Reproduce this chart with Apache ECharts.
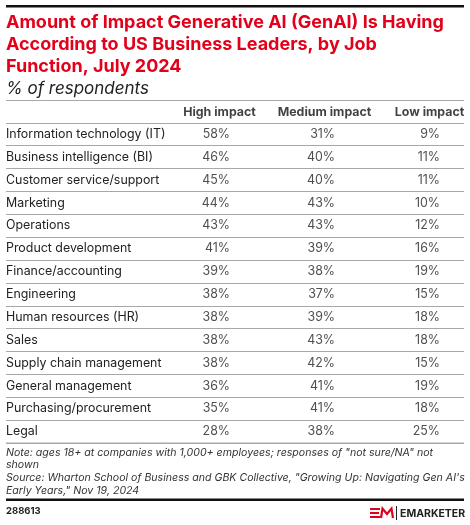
<!DOCTYPE html>
<html>
<head>
<meta charset="utf-8">
<script src="https://cdn.jsdelivr.net/npm/echarts@6/dist/echarts.min.js"></script>
<style>
    html, body { margin: 0; padding: 0; background: #fff; }
    #chart { width: 470px; height: 525px; }
</style>
</head>
<body>
<div id="chart"></div>
<script>
var jobFunctions = ["Information technology (IT)", "Business intelligence (BI)", "Customer service/support",
    "Marketing", "Operations", "Product development", "Finance/accounting", "Engineering",
    "Human resources (HR)", "Sales", "Supply chain management", "General management",
    "Purchasing/procurement", "Legal"];
var columnNames = ["High impact", "Medium impact", "Low impact"];
var highImpact = [58, 46, 45, 44, 43, 41, 39, 38, 38, 38, 38, 36, 35, 28];
var mediumImpact = [31, 40, 40, 43, 43, 39, 38, 37, 39, 43, 42, 41, 41, 38];
var lowImpact = [9, 11, 11, 10, 12, 16, 19, 15, 18, 18, 15, 19, 18, 25];

var FONT = "Inter";
var TEXT = "#222";
var RULE = "#a8a8a8";
var GRID_TOP = 100, GRID_H = 343;

// first row of the category axis is the header row
var rowCats = ["header"].concat(jobFunctions);

function valueSeries(col, values) {
    return {
        type: "scatter",
        symbolSize: 1,
        itemStyle: { color: "transparent" },
        silent: true,
        data: values.map(function (v, i) { return [col, i + 1, v]; }),
        label: {
            show: true,
            position: "inside",
            align: "right",
            offset: [10.5, 0],
            fontFamily: FONT,
            fontSize: 12.4,
            color: TEXT,
            formatter: function (p) { return p.value[2] + "%"; }
        }
    };
}

// table top / bottom rule (rect with top:100 did not draw, line does)
function rule(y) {
    return { type: "line", z: 10, shape: { x1: 6, y1: y, x2: 464, y2: y }, style: { stroke: RULE, lineWidth: 1 } };
}

var option = {
    animation: false,
    grid: { left: 6, right: 6, top: GRID_TOP, height: GRID_H },
    xAxis: { type: "value", min: -2.0333, max: 2.3286, show: false },
    yAxis: {
        type: "category",
        data: rowCats,
        inverse: true,
        axisLine: { show: false },
        axisTick: { show: false },
        axisLabel: {
            inside: true,
            margin: 0,
            align: "left",
            fontFamily: FONT,
            fontSize: 12.4,
            color: TEXT,
            formatter: function (v) { return v === "header" ? "" : v; }
        },
        splitLine: { show: true, interval: 0, lineStyle: { color: RULE, width: 1 } }
    },
    series: [
        valueSeries(0, highImpact),
        valueSeries(1, mediumImpact),
        valueSeries(2, lowImpact),
        {
            type: "scatter",
            symbolSize: 1,
            itemStyle: { color: "transparent" },
            silent: true,
            data: columnNames.map(function (n, c) { return [c, 0, n]; }),
            label: {
                show: true,
                position: "inside",
                offset: [0, 1],
                fontFamily: FONT,
                fontSize: 12.4,
                fontWeight: "bold",
                color: "#111",
                formatter: function (p) { return p.value[2]; }
            }
        }
    ],
    graphic: [
        { type: "rect", left: 6, top: 5, shape: { width: 458, height: 2.5 }, style: { fill: "#111" } },
        {
            type: "text", left: 6, top: 12,
            style: {
                text: "Amount of Impact Generative AI (GenAI) Is Having\nAccording to US Business Leaders, by Job\nFunction, July 2024",
                font: "bold 18px " + FONT, fill: "#e2001a", lineHeight: 22
            }
        },
        {
            type: "text", left: 6, top: 79,
            style: { text: "% of respondents", font: "italic 17px " + FONT, fill: TEXT, lineHeight: 20 }
        },
        rule(GRID_TOP + 0.5),
        rule(GRID_TOP + GRID_H),
        {
            type: "text", left: 6, top: 446,
            style: {
                text: "Note: ages 18+ at companies with 1,000+ employees; responses of \"not sure/NA\" not\nshown\nSource: Wharton School of Business and GBK Collective, \"Growing Up: Navigating Gen AI's\nEarly Years,\" Nov 19, 2024",
                font: "italic 10.6px " + FONT, fill: "#333", lineHeight: 12.7
            }
        },
        { type: "rect", left: 6, top: 498.5, shape: { width: 458, height: 2.5 }, style: { fill: "#111" } },
        { type: "text", left: 6, top: 506, style: { text: "288613", font: "bold 9.5px " + FONT, fill: "#222" } },
        // logo mark
        { type: "rect", left: 370, top: 508, shape: { width: 10, height: 2 }, style: { fill: "#e2001a" } },
        { type: "rect", left: 370, top: 512, shape: { width: 9, height: 2 }, style: { fill: "#e2001a" } },
        { type: "rect", left: 370, top: 516, shape: { width: 10, height: 2 }, style: { fill: "#e2001a" } },
        {
            type: "polyline", shape: { points: [[381, 518], [382.5, 508.5], [387, 514], [391.5, 508.5], [393, 518]] },
            style: { stroke: "#e2001a", lineWidth: 2.2, fill: null }
        },
        { type: "rect", left: 396, top: 506, shape: { width: 1, height: 14 }, style: { fill: "#222" } },
        { type: "text", left: 400, top: 508, style: { text: "EMARKETER", font: "bold 10.5px " + FONT, fill: "#222" } }
    ]
};

echarts.init(document.getElementById("chart")).setOption(option);
</script>
</body>
</html>
